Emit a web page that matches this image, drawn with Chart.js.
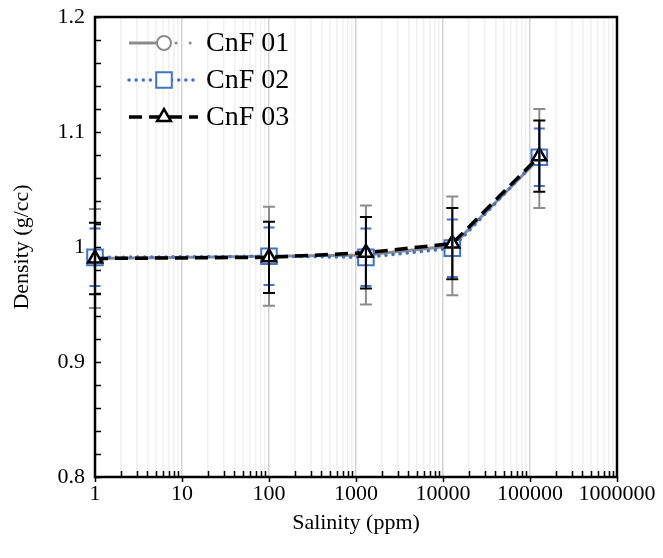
<!DOCTYPE html>
<html lang="en">
<head>
    <meta charset="UTF-8">
    <title>Density vs Salinity</title>
    <script src="https://cdn.jsdelivr.net/npm/chart.js"></script>
    <style>
        body { margin: 0; background: #fff; }
        #wrap { width: 663px; height: 558px; }
    </style>
</head>
<body>
    <div id="wrap">
        <canvas id="densityChart" width="663" height="558"></canvas>
    </div>

    <script>
        // Data
        const salinity = [1, 100, 1300, 12800, 128000];
        const cnf01 = [0.990, 0.992, 0.993, 1.001, 1.077];
        const cnf02 = [0.991, 0.992, 0.991, 0.999, 1.078];
        const cnf03 = [0.990, 0.991, 0.995, 1.003, 1.079];
        const err01 = [0.043, 0.043, 0.043, 0.043, 0.043];
        const err02 = [0.025, 0.025, 0.025, 0.025, 0.025];
        const err03 = [0.031, 0.031, 0.031, 0.031, 0.031];
        const seriesNames = ["CnF 01", "CnF 02", "CnF 03"];
        const xDecades = [1, 10, 100, 1000, 10000, 100000, 1000000];

        const FONT = '"Liberation Serif", "Times New Roman", serif';
        const GRAY = "#8c8c8c";
        const BLUE = "#4472c4";
        const BLACK = "#000000";

        // all 1..9 x 10^n tick values for the log axis
        const xTickValues = [];
        xDecades.forEach((d, i) => {
            if (i === xDecades.length - 1) { xTickValues.push(d); return; }
            for (let k = 1; k <= 9; k++) xTickValues.push(k * d);
        });

        function toPoints(ys) {
            return salinity.map((x, i) => ({ x: x, y: ys[i] }));
        }

        const errors = [err01, err02, err03];
        const values = [cnf01, cnf02, cnf03];

        // error bars
        const errorBarPlugin = {
            id: "errorBars",
            afterDatasetsDraw(chart) {
                const ctx = chart.ctx;
                const xs = chart.scales.x, ys = chart.scales.y;
                const styles = [
                    { color: GRAY, cap: 6, width: 2 },
                    { color: BLUE, cap: 5.5, width: 2 },
                    { color: BLACK, cap: 6, width: 2 }
                ];
                ctx.save();
                [0, 1, 2].forEach(d => {
                    const st = styles[d];
                    ctx.strokeStyle = st.color;
                    ctx.lineWidth = st.width;
                    salinity.forEach((s, i) => {
                        const px = xs.getPixelForValue(s);
                        const top = ys.getPixelForValue(values[d][i] + errors[d][i]);
                        const bot = ys.getPixelForValue(values[d][i] - errors[d][i]);
                        ctx.beginPath();
                        ctx.moveTo(px, top); ctx.lineTo(px, bot);
                        ctx.moveTo(px - st.cap, top); ctx.lineTo(px + st.cap, top);
                        ctx.moveTo(px - st.cap, bot); ctx.lineTo(px + st.cap, bot);
                        ctx.stroke();
                    });
                });
                ctx.restore();
            }
        };

        // frame, inside tick marks, axis titles and legend
        const framePlugin = {
            id: "frame",
            afterDraw(chart) {
                const ctx = chart.ctx;
                const a = chart.chartArea;
                const xs = chart.scales.x, ys = chart.scales.y;
                ctx.save();
                ctx.strokeStyle = "#000";
                ctx.lineWidth = 1.5;
                // y minor ticks every 0.02
                ctx.beginPath();
                for (let v = 0.8; v <= 1.2001; v += 0.02) {
                    const py = Math.round(ys.getPixelForValue(v)) + 0.5;
                    ctx.moveTo(a.left, py); ctx.lineTo(a.left + 6, py);
                }
                // x ticks
                xTickValues.forEach(v => {
                    const px = Math.round(xs.getPixelForValue(v)) + 0.5;
                    if (xDecades.includes(v)) {
                        ctx.moveTo(px, a.bottom); ctx.lineTo(px, a.bottom + 5);
                    } else {
                        ctx.moveTo(px, a.bottom); ctx.lineTo(px, a.bottom - 6);
                    }
                });
                ctx.stroke();

                ctx.lineWidth = 2.5;
                ctx.strokeRect(a.left, a.top, a.right - a.left, a.bottom - a.top);

                // axis titles
                ctx.fillStyle = "#000";
                ctx.font = "22px " + FONT;
                ctx.textAlign = "center";
                ctx.textBaseline = "middle";
                ctx.fillText("Salinity (ppm)", (a.left + a.right) / 2, 523);
                ctx.save();
                ctx.translate(22, (a.top + a.bottom) / 2);
                ctx.rotate(-Math.PI / 2);
                ctx.fillText("Density (g/cc)", 0, 0);
                ctx.restore();

                // legend
                const rows = [43, 80, 117];
                chart.data.datasets.forEach((ds, i) => {
                    const y = rows[i];
                    ctx.save();
                    ctx.strokeStyle = ds.borderColor;
                    ctx.lineWidth = ds.borderWidth;
                    ctx.lineCap = ds.borderCapStyle || "butt";
                    if (i === 0) {
                        ctx.beginPath();
                        ctx.moveTo(129, y); ctx.lineTo(160, y);
                        ctx.stroke();
                        ctx.lineCap = "round";
                        ctx.setLineDash([0.1, 14]);
                        ctx.beginPath();
                        ctx.moveTo(176, y); ctx.lineTo(200, y);
                        ctx.stroke();
                    } else {
                        ctx.setLineDash(ds.borderDash || []);
                        ctx.beginPath();
                        ctx.moveTo(129, y); ctx.lineTo(198, y);
                        ctx.stroke();
                    }
                    ctx.restore();
                    ctx.save();
                    ctx.fillStyle = "#fff";
                    ctx.strokeStyle = ds.pointBorderColor;
                    ctx.lineWidth = ds.pointBorderWidth;
                    Chart.helpers.drawPoint(ctx, {
                        pointStyle: ds.pointStyle, radius: ds.pointRadius, rotation: 0, borderWidth: ds.pointBorderWidth
                    }, 164, y);
                    ctx.restore();
                    ctx.fillStyle = "#000";
                    ctx.font = "28px " + FONT;
                    ctx.textAlign = "left";
                    ctx.textBaseline = "middle";
                    ctx.fillText(seriesNames[i], 206, y + 1);
                });
                ctx.restore();
            }
        };

        const ctx = document.getElementById("densityChart").getContext("2d");
        new Chart(ctx, {
            type: "line",
            data: {
                datasets: [
                    {
                        label: seriesNames[0],
                        data: toPoints(cnf01),
                        borderColor: GRAY,
                        borderWidth: 3,
                        pointStyle: "circle",
                        pointRadius: 7,
                        pointBorderWidth: 2,
                        pointBorderColor: GRAY,
                        pointBackgroundColor: "#fff",
                        order: 3
                    },
                    {
                        label: seriesNames[1],
                        data: toPoints(cnf02),
                        borderColor: BLUE,
                        borderWidth: 3.5,
                        borderDash: [0.1, 7],
                        borderCapStyle: "round",
                        pointStyle: "rect",
                        pointRadius: 11,
                        pointBorderWidth: 2,
                        pointBorderColor: BLUE,
                        pointBackgroundColor: "#fff",
                        order: 2
                    },
                    {
                        label: seriesNames[2],
                        data: toPoints(cnf03),
                        borderColor: BLACK,
                        borderWidth: 3.5,
                        borderDash: [13, 7],
                        pointStyle: "triangle",
                        pointRadius: 8,
                        pointBorderWidth: 2.5,
                        pointBorderColor: BLACK,
                        pointBackgroundColor: "#fff",
                        order: 1
                    }
                ]
            },
            options: {
                responsive: false,
                animation: false,
                devicePixelRatio: 1,
                clip: false,
                layout: { padding: { top: 17, right: 46, left: 0, bottom: 0 } },
                plugins: {
                    legend: { display: false },
                    tooltip: { enabled: false }
                },
                scales: {
                    x: {
                        type: "logarithmic",
                        min: 1,
                        max: 1000000,
                        afterBuildTicks: s => {
                            s.ticks = xTickValues.map(v => ({ value: v, major: xDecades.includes(v) }));
                        },
                        afterFit: s => { s.height = 81; s.paddingLeft = 0; s.paddingRight = 0; },
                        ticks: {
                            autoSkip: false,
                            maxRotation: 0,
                            padding: 4,
                            color: "#000",
                            font: { family: FONT, size: 22 },
                            callback: v => xDecades.includes(v) ? String(v) : ""
                        },
                        grid: {
                            drawTicks: false,
                            lineWidth: 1.5,
                            color: c => (c.tick && xDecades.includes(c.tick.value)) ? "#d4d4d4" : "#f0f0f0"
                        },
                        border: { display: false }
                    },
                    y: {
                        min: 0.8,
                        max: 1.2,
                        afterFit: s => { s.width = 95; s.paddingTop = 0; s.paddingBottom = 0; },
                        ticks: {
                            stepSize: 0.1,
                            padding: 10,
                            color: "#000",
                            font: { family: FONT, size: 22 },
                            callback: v => String(Number(v.toFixed(1)))
                        },
                        grid: { display: false, drawTicks: false },
                        border: { display: false }
                    }
                }
            },
            plugins: [errorBarPlugin, framePlugin]
        });
    </script>
</body>
</html>
